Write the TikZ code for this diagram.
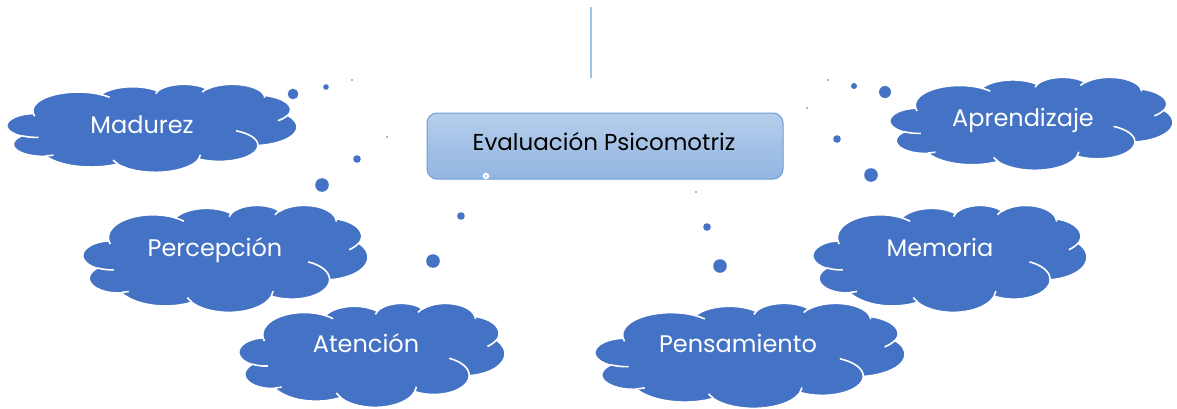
\documentclass[tikz,border=0pt]{standalone}
\usepackage{fontspec}
\setmainfont{Poppins}
\definecolor{cloudblue}{HTML}{4472C4}
\definecolor{boxtop}{HTML}{B6CEEB}
\definecolor{boxbot}{HTML}{92B5E1}
\definecolor{boxline}{HTML}{6E9CD4}
\definecolor{vline}{HTML}{9DC3E6}
\tikzset{
  cloudtext/.style={text=white, font=\fontsize{24}{29}\selectfont, anchor=base, inner sep=0pt},
  mainbox/.style={draw=boxline, line width=1pt, rounded corners=10pt, top color=boxtop, bottom color=boxbot},
  bubble/.style={fill=cloudblue},
  cloudedge/.style={draw=white, line width=1.6pt}
}
% visual (OOXML) angles -> parametric arc style
\newcommand\defarc[5]{%
  \pgfmathsetmacro\tmpa{atan2(#2*sin(#4), #3*cos(#4))}%
  \pgfmathsetmacro\tmpS{#4 + mod(\tmpa - (#4) + 540, 360) - 180}%
  \pgfmathsetmacro\tmpe{atan2(#2*sin(#4+#5), #3*cos(#4+#5))}%
  \pgfmathsetmacro\tmpE{#4+#5 + mod(\tmpe - (#4+#5) + 540, 360) - 180}%
  \tikzset{#1/.style/.expanded={start angle=\tmpS, end angle=\tmpE, x radius=#2, y radius=#3}}%
}
\defarc{outerA}{6.753}{9.190}{-190.4875}{123.7805}
\defarc{outerB}{5.333}{7.267}{-144.1024}{89.9452}
\defarc{outerC}{4.365}{5.945}{-145.8079}{99.7230}
\defarc{outerD}{4.857}{6.595}{-130.9861}{117.2417}
\defarc{outerE}{5.333}{7.273}{-78.7089}{109.0269}
\defarc{outerF}{6.775}{9.220}{-46.2673}{130.2690}
\defarc{outerG}{5.785}{7.867}{0.6250}{114.0333}
\defarc{outerH}{6.752}{9.215}{22.4516}{115.1726}
\defarc{outerI}{7.720}{10.543}{66.2426}{75.7110}
\defarc{outerJ}{4.360}{5.918}{-274.9421}{146.7356}
\defarc{outerK}{4.345}{5.945}{-246.8285}{152.5189}
\defarc{innerA}{4.345}{5.945}{86.7420}{26.4295}
\defarc{innerB}{4.360}{5.918}{73.6105}{11.4475}
\defarc{innerC}{6.752}{9.215}{137.6242}{14.0811}
\defarc{innerD}{6.752}{9.215}{6.4533}{15.9984}
\defarc{innerE}{5.785}{7.867}{-70.2924}{70.9174}
\defarc{innerF}{5.333}{7.273}{30.3180}{27.7515}
\defarc{innerG}{4.857}{6.595}{-13.7443}{14.8589}
\defarc{innerH}{4.857}{6.595}{-149.1815}{18.1954}
\defarc{innerI}{4.365}{5.945}{-163.4943}{17.6864}
\defarc{innerJ}{6.753}{9.190}{-66.7070}{12.3194}
\defarc{innerK}{6.753}{9.190}{157.6544}{11.8582}
\newcommand\mycloud[4]{%
\begin{scope}[shift={(#1,#2)}, xscale=#3/43.2, yscale=#4/43.2]
\path[fill=cloudblue, cloudedge] (3.900,14.370)
 arc[outerA] arc[outerB] arc[outerC] arc[outerD] arc[outerE] arc[outerF]
 arc[outerG] arc[outerH] arc[outerI] arc[outerJ] arc[outerK] -- cycle;
\path[cloudedge]
 (4.693,26.177) arc[innerA]
 (6.928,34.899) arc[innerB]
 (16.478,39.090) arc[innerC]
 (28.827,34.751) arc[innerD]
 (34.129,22.954) arc[innerE]
 (41.798,15.354) arc[innerF]
 (38.324,5.426) arc[innerG]
 (29.078,3.952) arc[innerH]
 (22.141,4.720) arc[innerI]
 (14.000,5.192) arc[innerJ]
 (4.127,15.789) arc[innerK];
\end{scope}}
\begin{document}
\begin{tikzpicture}[x=1pt, y=-1pt]
\useasboundingbox[fill=white] (0,0) rectangle (1177,408);
% vertical line
\coordinate (ltop) at (591,7);
\coordinate (lbot) at (591,78);
\draw[vline, line width=1.6pt] (ltop) -- (lbot);
% clouds
\mycloud{7}{84}{290}{88}
\mycloud{83}{205}{285}{107}
\mycloud{239}{303}{266}{104}
\mycloud{890}{77}{283}{93}
\mycloud{813}{205}{274}{107}
\mycloud{595}{303}{310}{105}
\node[cloudtext] (madurez) at (142,133) {Madurez};
\node[cloudtext] (percepcion) at (215,256) {Percepción};
\node[cloudtext] (atencion) at (366,352) {Atención};
\node[cloudtext] (pensamiento) at (738,352) {Pensamiento};
\node[cloudtext] (memoria) at (940,256) {Memoria};
\node[cloudtext] (aprendizaje) at (1023,126) {Aprendizaje};
% thought bubbles
\fill[bubble] (293,94) circle[radius=5.3];
\fill[bubble] (326,87) circle[radius=2.8];
\fill[bubble] (352,80) circle[radius=0.8];
\fill[bubble] (387,137) circle[radius=0.9];
\fill[bubble] (357,159) circle[radius=3.8];
\fill[bubble] (322,185) circle[radius=6.8];
\fill[bubble] (461,216) circle[radius=3.8];
\fill[bubble] (433,261) circle[radius=6.8];
\fill[bubble] (828,80) circle[radius=0.8];
\fill[bubble] (854,86) circle[radius=3];
\fill[bubble] (885,92) circle[radius=6];
\fill[bubble] (807,108) circle[radius=0.9];
\fill[bubble] (837,139) circle[radius=3.8];
\fill[bubble] (871,175) circle[radius=6.8];
\fill[bubble] (696,192) circle[radius=0.9];
\fill[bubble] (707,227) circle[radius=3.8];
\fill[bubble] (720,266) circle[radius=6.8];
% main box
\node[mainbox, minimum width=356pt, minimum height=66pt] (main) at (605,146) {};
\node[anchor=base, font=\fontsize{23}{27}\selectfont, text=black, inner sep=0pt] (maintext) at (604,150) {Evaluación Psicomotriz};
\node[draw=boxline!60, line width=0.5pt, fill=white, circle, inner sep=0pt, minimum size=7pt] (handle) at (486,176) {};
\fill[boxline] (handle.center) circle[radius=0.8];
\end{tikzpicture}
\end{document}
